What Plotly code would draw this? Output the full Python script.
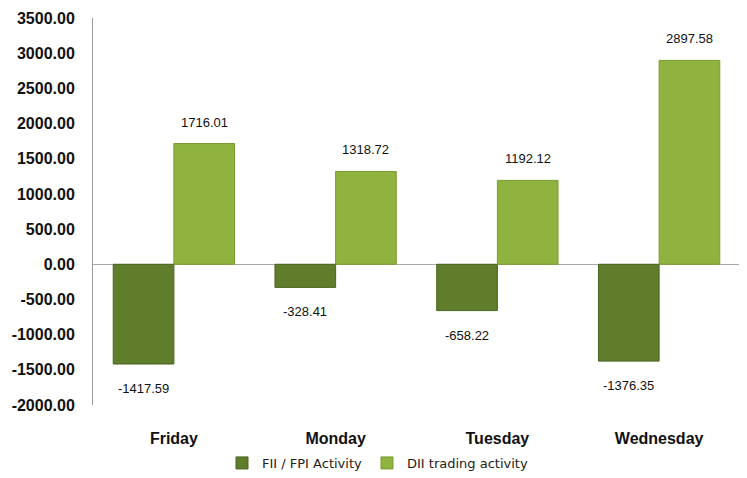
import plotly.graph_objects as go

days = ["Friday", "Monday", "Tuesday", "Wednesday"]
fii = [-1417.59, -328.41, -658.22, -1376.35]
dii = [1716.01, 1318.72, 1192.12, 2897.58]
tick_vals = [-2000, -1500, -1000, -500, 0, 500, 1000, 1500, 2000, 2500, 3000, 3500]
tick_text = [f"{v:.2f}" for v in tick_vals]

W, H = 739, 470
ML, MR, MT, MB = 85, 7, 10, 73
BARGAP = 0.25
plot_w = W - ML - MR
half_bar_px = plot_w / len(days) * (1 - BARGAP) / 4

label_font = dict(family="Liberation Sans Narrow, Liberation Sans, Arial", size=13, color="#111")

fig = go.Figure()
fig.add_trace(go.Bar(
    x=days, y=fii, name="FII / FPI Activity",
    marker=dict(color="#5f7d2b", line=dict(color="#4a6320", width=1)),
))
fig.add_trace(go.Bar(
    x=days, y=dii, name="DII trading activity",
    marker=dict(color="#8fb33e", line=dict(color="#7a9a32", width=1)),
))

annotations = []
for d, v in zip(days, fii):
    annotations.append(dict(x=d, y=v, xref="x", yref="y", text=f"{v:.2f}", showarrow=False,
                            xshift=-half_bar_px, yanchor="top", yshift=-15, font=label_font))
for d, v in zip(days, dii):
    annotations.append(dict(x=d, y=v, xref="x", yref="y", text=f"{v:.2f}", showarrow=False,
                            xshift=half_bar_px, yanchor="bottom", yshift=12, font=label_font))

fig.update_layout(
    width=W, height=H,
    margin=dict(l=ML, r=MR, t=MT, b=MB),
    paper_bgcolor="white", plot_bgcolor="white",
    barmode="group", bargap=BARGAP, bargroupgap=0,
    showlegend=True,
    legend=dict(orientation="h", xref="container", x=0.5, xanchor="center",
                yref="container", y=0.0, yanchor="bottom", bgcolor="rgba(0,0,0,0)",
                font=dict(family="DejaVu Sans, Verdana", size=13, color="#222"),
                traceorder="normal"),
    annotations=annotations,
)
fig.update_xaxes(
    showline=False, showgrid=False, ticks="", automargin=False, ticklabelstandoff=22,
    tickfont=dict(family="Liberation Sans, Arial", size=16, color="#111", weight="bold"),
)
fig.update_yaxes(
    range=[-2000, 3500], tickvals=tick_vals, ticktext=tick_text,
    showgrid=False, showline=True, linecolor="#999", linewidth=1,
    zeroline=True, zerolinecolor="#aaa", zerolinewidth=1, automargin=False,
    tickfont=dict(family="Liberation Sans, Arial", size=16, color="#111", weight="bold"),
    ticks="", ticklabelstandoff=14,
)

fig.write_html("out.html")
